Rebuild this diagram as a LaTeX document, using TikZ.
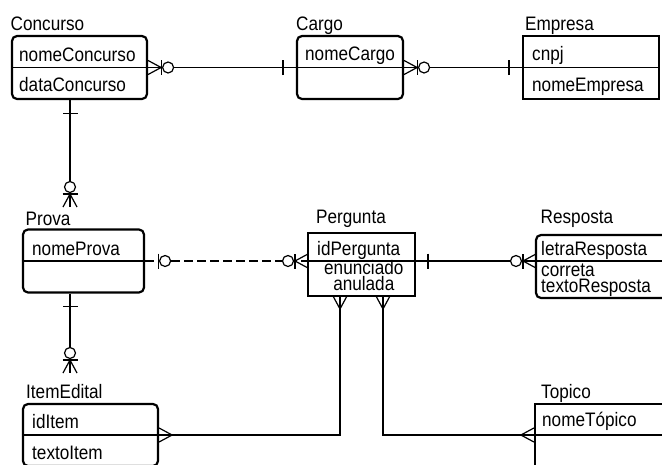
\documentclass[tikz,border=0pt]{standalone}
\usepackage{fontspec}
\setmainfont{Liberation Sans}[FakeStretch=0.88]
\tikzset{
  ent/.style={draw, line width=2.2pt, inner sep=0pt},
  rent/.style={ent, rounded corners=5pt},
  txt/.style={anchor=base west, inner sep=0pt, font=\fontsize{19.5}{21}\selectfont},
  tight/.style={txt, font=\fontsize{19.5}{15.5}\selectfont},
  rel/.style={line width=1.2pt},
  pics/many/.style={code={\draw[rel] (0,-7) -- (13,0) -- (0,7);}},
  pics/zmany/.style={code={
    \draw[rel] (0,-7) -- (13,0) -- (0,7);
    \draw[rel] (13,-7.5) -- (13,7.5);
    \draw[rel, fill=white] (20,0) circle (5.5pt);}},
  pics/one/.style={code={\draw[rel] (13,-7.5) -- (13,7.5);}},
  pics/zone/.style={code={
    \draw[rel] (13,-7.5) -- (13,7.5);
    \draw[rel, fill=white] (20,0) circle (5.5pt);}}
}
\begin{document}
\begin{tikzpicture}[x=1pt, y=-1pt]
\clip (0,0) rectangle (662,464);
\node[rent, minimum width=135pt, minimum height=63pt] (concurso) at (79.5,67.5) {};
\node[rent, minimum width=106pt, minimum height=63pt] (cargo) at (350,67.5) {};
\node[ent, minimum width=136pt, minimum height=63pt] (empresa) at (591,67.5) {};
\node[rent, minimum width=121pt, minimum height=63pt] (prova) at (83.5,261) {};
\node[ent, minimum width=107pt, minimum height=63pt] (pergunta) at (361.5,264.5) {};
\node[rent, minimum width=164pt, minimum height=63pt] (resposta) at (618,266.5) {};
\node[rent, minimum width=135pt, minimum height=62pt] (itemedital) at (90.5,435) {};
\node[ent, minimum width=165pt, minimum height=62pt] (topico) at (617.5,435) {};
\coordinate (pergW) at (308,261);
\coordinate (pergE) at (415,261);
\coordinate (respW) at (536,261);
\coordinate (respE) at (700,261);
\coordinate (pergA) at (340,296);
\coordinate (pergB) at (383,296);
\coordinate (provaEnd) at (70,207);
\coordinate (itemEnd) at (70,373);
\draw[rel] (concurso.west) -- (concurso.east);
\draw[rel] (cargo.west) -- (cargo.east);
\draw[rel] (empresa.west) -- (empresa.east);
\draw[rel] (prova.west) -- (prova.east);
\draw[rel] (pergW) -- (pergE);
\draw[rel] (respW) -- (respE);
\draw[rel] (itemedital.west) -- (itemedital.east);
\draw[rel] (topico.west) -- (topico.east);
\node[txt] (tConcurso) at (10.5,30.5) {Concurso};
\node[txt] (tCargo) at (296,30) {Cargo};
\node[txt] (tEmpresa) at (525,30.5) {Empresa};
\node[txt] (tProva) at (25.5,225) {Prova};
\node[txt] (tPergunta) at (316,223) {Pergunta};
\node[txt] (tResposta) at (540.5,223) {Resposta};
\node[txt] (tItemEdital) at (26,398) {ItemEdital};
\node[txt] (tTopico) at (541,398) {Topico};
\node[txt] (aNomeConcurso) at (19,61) {nomeConcurso};
\node[txt] (aDataConcurso) at (19,91.5) {dataConcurso};
\node[txt] (aNomeCargo) at (305,60) {nomeCargo};
\node[txt] (aCnpj) at (532,60) {cnpj};
\node[txt] (aNomeEmpresa) at (532,91) {nomeEmpresa};
\node[txt] (aNomeProva) at (32,255) {nomeProva};
\node[txt] (aIdPergunta) at (317,255) {idPergunta};
\node[tight, align=center] (aPergunta) at (324,290) {enunciado\\anulada};
\node[txt] (aLetra) at (541,255) {letraResposta};
\node[tight, align=left] (aResposta) at (541,292) {correta\\textoResposta};
\node[txt] (aIdItem) at (32,428) {idItem};
\node[txt] (aTextoItem) at (32,459) {textoItem};
\node[txt] (aNomeTopico) at (542,426) {nomeTópico};
\draw[rel] (concurso.east) -- (cargo.west);
\pic at (concurso.east) {zmany};
\pic[rotate=180] at (cargo.west) {one};
\draw[rel] (cargo.east) -- (empresa.west);
\pic at (cargo.east) {zmany};
\pic[rotate=180] at (empresa.west) {one};
\draw[rel] (concurso.south -| provaEnd) -- (provaEnd);
\pic[rotate=-90] at (concurso.south -| provaEnd) {one};
\pic[rotate=90] at (provaEnd) {zmany};
\draw[rel] (prova.south -| itemEnd) -- (itemEnd);
\pic[rotate=-90] at (prova.south -| itemEnd) {one};
\pic[rotate=90] at (itemEnd) {zmany};
\draw[rel, dash pattern=on 9pt off 4pt] (prova.east) -- (pergW);
\pic at (prova.east) {zone};
\pic[rotate=180] at (pergW) {zmany};
\draw[rel] (pergE) -- (respW);
\pic at (pergE) {one};
\pic[rotate=180] at (respW) {zmany};
\draw[rel] (pergA) |- (itemedital.east);
\pic[rotate=-90] at (pergA) {many};
\pic at (itemedital.east) {many};
\draw[rel] (pergB) |- (topico.west);
\pic[rotate=-90] at (pergB) {many};
\pic[rotate=180] at (topico.west) {many};
\end{tikzpicture}
\end{document}
